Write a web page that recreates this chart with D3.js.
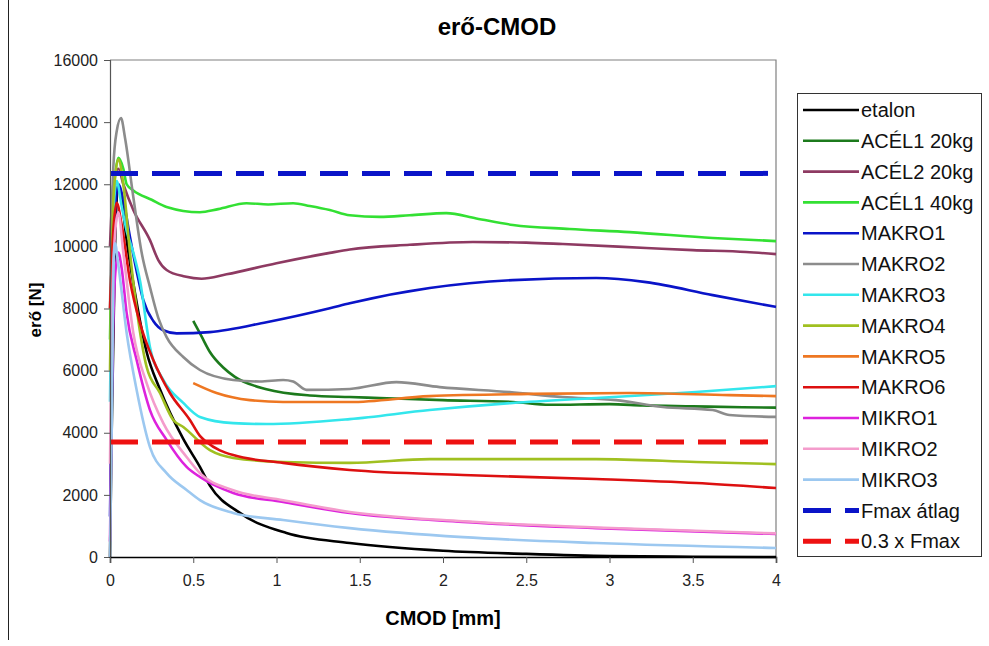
<!DOCTYPE html>
<html>
<head>
<meta charset="utf-8">
<script src="https://cdn.jsdelivr.net/npm/d3@7"></script>
<style>
  body { margin: 0; background: #fff; }
  svg { display: block; font-family: "Liberation Sans", Arial, sans-serif; }
</style>
</head>
<body>
<div id="chart"></div>
<script>
// series data: [CMOD mm, force N]
const etalon = [[0,0],[0.01,4000],[0.03,10000],[0.05,12000],[0.07,11500],[0.1,10200],[0.15,8500],[0.22,6600],[0.3,5400],[0.44,3800],[0.54,2900],[0.6,2300],[0.78,1420],[1.06,770],[1.44,450],[2,200],[2.5,100],[3,30],[3.5,10],[4,0]];
const acel1_20 = [[0.5,7600],[0.55,7100],[0.6,6600],[0.68,6100],[0.75,5800],[0.94,5400],[1.2,5200],[1.44,5150],[1.62,5120],[2,5050],[2.42,4990],[2.64,4900],[3,4920],[3.2,4880],[3.5,4850],[3.8,4820],[4,4810]];
const acel2_20 = [[0,10000],[0.02,12000],[0.05,12500],[0.08,12000],[0.14,11170],[0.24,10200],[0.29,9560],[0.34,9240],[0.45,9030],[0.55,8960],[0.7,9100],[1,9460],[1.32,9790],[1.44,9900],[1.8,10050],[2.18,10140],[2.5,10120],[2.72,10075],[3.22,9950],[3.5,9880],[3.82,9820],[4,9750]];
const acel1_40 = [[0,7000],[0.02,11500],[0.05,12850],[0.08,12500],[0.1,12000],[0.14,11800],[0.25,11500],[0.34,11270],[0.54,11100],[0.65,11200],[0.82,11390],[0.95,11350],[1.1,11390],[1.2,11300],[1.32,11170],[1.44,11000],[1.62,10950],[1.8,11000],[2.02,11070],[2.2,10900],[2.42,10690],[2.76,10560],[3.12,10460],[3.62,10270],[4,10170]];
const makro1 = [[0,1300],[0.01,5000],[0.03,11000],[0.05,12000],[0.08,11500],[0.12,10300],[0.16,9200],[0.2,8270],[0.26,7600],[0.32,7300],[0.4,7200],[0.6,7240],[0.94,7560],[1.32,8010],[1.44,8170],[1.92,8660],[2.42,8915],[2.92,8980],[3.22,8850],[3.62,8430],[4,8050]];
const makro2 = [[0,8000],[0.02,12550],[0.04,13700],[0.066,14130],[0.09,13500],[0.14,11590],[0.19,9800],[0.24,8690],[0.29,7700],[0.34,7080],[0.44,6440],[0.54,6020],[0.74,5700],[0.9,5650],[1.04,5700],[1.1,5650],[1.18,5380],[1.44,5410],[1.72,5630],[1.98,5470],[2.4,5310],[2.72,5150],[3.04,5050],[3.32,4830],[3.62,4730],[3.72,4570],[4,4510]];
const makro3 = [[0,5000],[0.02,11000],[0.04,12100],[0.07,11300],[0.1,10500],[0.14,9800],[0.18,8900],[0.24,6760],[0.32,5700],[0.44,4960],[0.54,4510],[0.74,4310],[0.94,4280],[1.44,4440],[1.92,4730],[2.42,4960],[2.92,5120],[3.52,5310],[4,5500]];
const makro4 = [[0,6000],[0.02,11500],[0.05,12800],[0.08,12000],[0.12,9800],[0.16,8000],[0.22,6120],[0.3,5280],[0.38,4410],[0.44,4185],[0.6,3440],[0.74,3190],[1.04,3060],[1.44,3030],[1.92,3150],[2.92,3150],[3.52,3060],[4,2990]];
const makro5 = [[0.5,5600],[0.64,5280],[0.84,5050],[1.04,4990],[1.44,4990],[1.92,5180],[2.52,5250],[3.12,5280],[3.72,5210],[4,5180]];
const makro6 = [[0,8000],[0.02,10500],[0.04,11400],[0.07,10700],[0.12,8900],[0.18,7530],[0.26,6340],[0.36,5280],[0.48,4410],[0.54,3900],[0.58,3700],[0.74,3280],[1.04,3030],[1.44,2800],[2.12,2640],[2.92,2510],[3.52,2380],[4,2220]];
const mikro1 = [[0,500],[0.01,4800],[0.03,9000],[0.05,9800],[0.07,9300],[0.1,7850],[0.16,6340],[0.24,4730],[0.34,3770],[0.46,2900],[0.54,2575],[0.74,2060],[1.04,1770],[1.44,1416],[2.12,1130],[2.92,930],[4,740]];
const mikro2 = [[0,3000],[0.02,9500],[0.05,11100],[0.08,9800],[0.14,7210],[0.22,5600],[0.32,4310],[0.46,3220],[0.54,2700],[0.74,2150],[1.04,1830],[1.44,1450],[2.12,1150],[2.92,950],[4,760]];
const mikro3 = [[0,0],[0.01,4000],[0.02,9000],[0.03,10100],[0.05,9400],[0.1,7210],[0.16,5380],[0.24,3540],[0.34,2700],[0.46,2160],[0.54,1830],[0.74,1420],[1.04,1190],[1.44,930],[2.12,640],[2.92,450],[4,290]];

const seriesNames = ["etalon", "ACÉL1 20kg", "ACÉL2 20kg", "ACÉL1 40kg", "MAKRO1", "MAKRO2", "MAKRO3", "MAKRO4", "MAKRO5", "MAKRO6", "MIKRO1", "MIKRO2", "MIKRO3"];
const seriesData = [etalon, acel1_20, acel2_20, acel1_40, makro1, makro2, makro3, makro4, makro5, makro6, mikro1, mikro2, mikro3];
const seriesColors = ["#000000", "#1c7a1c", "#8e3a62", "#33e033", "#0a14c8", "#8c8c8c", "#33e6ec", "#a0c020", "#ee7722", "#dd1010", "#dd22dd", "#f49ccc", "#9cc8f0"];

const refNames = ["Fmax átlag", "0.3 x Fmax"];
const refValues = [12350, 3705];
const refColors = ["#0a14c8", "#ee1111"];

const xTicks = [0, 0.5, 1, 1.5, 2, 2.5, 3, 3.5, 4];
const yTicks = [0, 2000, 4000, 6000, 8000, 10000, 12000, 14000, 16000];

const W = 989, H = 646;
const margin = { left: 110, right: 213, top: 60, bottom: 89 };

const svg = d3.select("#chart").append("svg").attr("width", W).attr("height", H);

const x = d3.scaleLinear().domain([0, 4]).range([margin.left, W - margin.right]);
const y = d3.scaleLinear().domain([0, 16000]).range([H - margin.bottom, margin.top]);

// left page border
svg.append("line").attr("x1", 8.5).attr("x2", 8.5).attr("y1", 0).attr("y2", 640)
    .attr("stroke", "#222").attr("stroke-width", 1);

// plot frame (top + right)
svg.append("path")
    .attr("d", `M${x(0)},${y(16000)}H${x(4)}V${y(0)}`)
    .attr("fill", "none").attr("stroke", "#808080").attr("stroke-width", 1.2);

const line = d3.line().x(d => x(d[0])).y(d => y(d[1])).curve(d3.curveMonotoneX);

const plot = svg.append("g");
seriesData.forEach((s, i) => {
    plot.append("path").datum(s)
        .attr("d", line)
        .attr("fill", "none")
        .attr("stroke", seriesColors[i])
        .attr("stroke-width", 2.6)
        .attr("stroke-linejoin", "round");
});

refValues.forEach((v, i) => {
    plot.append("line")
        .attr("x1", x(0)).attr("x2", x(4))
        .attr("y1", y(v)).attr("y2", y(v))
        .attr("stroke", refColors[i]).attr("stroke-width", 5)
        .attr("stroke-dasharray", "28,14");
});

// axes
const yAxis = svg.append("g").attr("transform", `translate(${x(0)},0)`)
    .call(d3.axisLeft(y).tickValues(yTicks).tickSize(6).tickPadding(6).tickFormat(d3.format("d")));
yAxis.select(".domain").attr("stroke", "#555").attr("stroke-width", 1.2);
yAxis.selectAll(".tick line").attr("stroke", "#555");
yAxis.selectAll("text").attr("font-size", 16).attr("fill", "#222").attr("font-family", "Liberation Sans, Arial, sans-serif");

const xAxis = svg.append("g").attr("transform", `translate(0,${y(0)})`)
    .call(d3.axisBottom(x).tickValues(xTicks).tickSize(6).tickPadding(12).tickFormat(d => d));
xAxis.select(".domain").attr("stroke", "#000").attr("stroke-width", 1.5);
xAxis.selectAll(".tick line").attr("stroke", "#555");
xAxis.selectAll("text").attr("font-size", 16).attr("fill", "#222").attr("font-family", "Liberation Sans, Arial, sans-serif");

// titles
svg.append("text").attr("x", 497).attr("y", 35).attr("text-anchor", "middle")
    .attr("font-size", 24).attr("font-weight", "bold").text("erő-CMOD");
svg.append("text").attr("x", 443).attr("y", 625).attr("text-anchor", "middle")
    .attr("font-size", 20).attr("font-weight", "bold").text("CMOD [mm]");
svg.append("text").attr("transform", `translate(41,310) rotate(-90)`).attr("text-anchor", "middle")
    .attr("font-size", 17).attr("font-weight", "bold").text("erő [N]");

// legend
const legend = svg.append("g");
legend.append("rect").attr("x", 797.5).attr("y", 93.5).attr("width", 184).attr("height", 463)
    .attr("fill", "#fff").attr("stroke", "#333").attr("stroke-width", 1);

const legendItems = seriesNames.map((n, i) => ({ name: n, color: seriesColors[i], dash: null, w: 2.6 }))
    .concat(refNames.map((n, i) => ({ name: n, color: refColors[i], dash: "28,14", w: 5 })));

legendItems.forEach((d, i) => {
    const ly = 110 + i * 30.8;
    legend.append("line").attr("x1", 803).attr("x2", 859).attr("y1", ly).attr("y2", ly)
        .attr("stroke", d.color).attr("stroke-width", d.w)
        .attr("stroke-dasharray", d.dash);
    legend.append("text").attr("x", 861).attr("y", ly).attr("dy", "0.36em")
        .attr("font-size", 20).attr("fill", "#111").text(d.name);
});
</script>
</body>
</html>
